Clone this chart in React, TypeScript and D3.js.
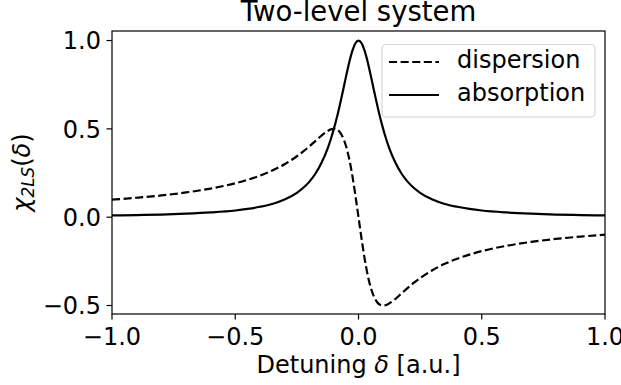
import React from "react";
import * as d3 from "d3";

// Detuning samples (a.u.) and the two response curves
const detuning = [
  -1, -0.9, -0.8, -0.7, -0.6, -0.5, -0.45, -0.4, -0.35, -0.3, -0.25, -0.225, -0.2,
  -0.175, -0.15, -0.125, -0.1125, -0.1, -0.0875, -0.075, -0.0625, -0.05, -0.0375,
  -0.025, -0.0125, 0, 0.0125, 0.025, 0.0375, 0.05, 0.0625, 0.075, 0.0875, 0.1,
  0.1125, 0.125, 0.15, 0.175, 0.2, 0.225, 0.25, 0.3, 0.35, 0.4, 0.45, 0.5, 0.6,
  0.7, 0.8, 0.9, 1,
];

const absorption = [
  0.01, 0.012, 0.015, 0.02, 0.027, 0.038, 0.047, 0.059, 0.075, 0.1, 0.138, 0.165, 0.2,
  0.246, 0.308, 0.39, 0.441, 0.5, 0.566, 0.64, 0.719, 0.8, 0.877,
  0.941, 0.985, 1.0, 0.985, 0.941, 0.877, 0.8, 0.719, 0.64, 0.566, 0.5,
  0.441, 0.39, 0.308, 0.246, 0.2, 0.165, 0.138, 0.1, 0.075, 0.059, 0.047, 0.038, 0.027,
  0.02, 0.015, 0.012, 0.01,
];

const dispersion = [
  0.099, 0.11, 0.123, 0.14, 0.162, 0.192, 0.212, 0.235, 0.264, 0.3, 0.345, 0.371, 0.4,
  0.431, 0.462, 0.488, 0.497, 0.5, 0.496, 0.48, 0.449, 0.4, 0.329,
  0.235, 0.123, 0.0, -0.123, -0.235, -0.329, -0.4, -0.449, -0.48, -0.496, -0.5,
  -0.497, -0.488, -0.462, -0.431, -0.4, -0.371, -0.345, -0.3, -0.264, -0.235, -0.212, -0.192, -0.162,
  -0.14, -0.123, -0.11, -0.099,
];

const xTicks = [-1, -0.5, 0, 0.5, 1];
const xTickLabels = ["\u22121.0", "\u22120.5", "0.0", "0.5", "1.0"];
const yTicks = [-0.5, 0, 0.5, 1];
const yTickLabels = ["\u22120.5", "0.0", "0.5", "1.0"];

const seriesNames = ["dispersion", "absorption"];

const W = 621;
const H = 385;
const plot = { left: 112, right: 605, top: 31, bottom: 314 };
const FONT = "DejaVu Sans, sans-serif";
const FS = 24;

export default function App() {
  const x = d3.scaleLinear().domain([-1, 1]).range([plot.left, plot.right]);
  const y = d3.scaleLinear().domain([-0.548, 1.054]).range([plot.bottom, plot.top]);

  const pts = (vals: number[]) => detuning.map((d, i) => [d, vals[i]] as [number, number]);
  const line = d3
    .line<[number, number]>()
    .x((d) => x(d[0]))
    .y((d) => y(d[1]))
    .curve(d3.curveMonotoneX);

  const dash = "8.1,3.5";
  const lw = 2.2;
  const legendRows = [
    { name: seriesNames[0], dash, y: 62 },
    { name: seriesNames[1], dash: undefined, y: 95 },
  ];

  return (
    <svg
      width={W}
      height={H}
      viewBox={`0 0 ${W} ${H}`}
      style={{ position: "absolute", left: 0, top: 0, background: "#fff" }}
      fontFamily={FONT}
    >
      <rect x={0} y={0} width={W} height={H} fill="#fff" />
      <defs>
        <clipPath id="plotClip">
          <rect x={plot.left} y={plot.top} width={plot.right - plot.left} height={plot.bottom - plot.top} />
        </clipPath>
      </defs>

      {/* curves */}
      <g clipPath="url(#plotClip)" fill="none" stroke="#000" strokeWidth={lw}>
        <path d={line(pts(dispersion)) || ""} strokeDasharray={dash} />
        <path d={line(pts(absorption)) || ""} />
      </g>

      {/* frame */}
      <rect
        x={plot.left}
        y={plot.top}
        width={plot.right - plot.left}
        height={plot.bottom - plot.top}
        fill="none"
        stroke="#000"
        strokeWidth={1.2}
      />

      {/* x axis ticks */}
      {xTicks.map((t, i) => (
        <g key={`xt${i}`}>
          <line x1={x(t)} x2={x(t)} y1={plot.bottom} y2={plot.bottom + 5.5} stroke="#000" strokeWidth={1.2} />
          <text x={x(t)} y={345} fontSize={FS} textAnchor="middle" fill="#000">
            {xTickLabels[i]}
          </text>
        </g>
      ))}

      {/* y axis ticks */}
      {yTicks.map((t, i) => (
        <g key={`yt${i}`}>
          <line x1={plot.left - 5.5} x2={plot.left} y1={y(t)} y2={y(t)} stroke="#000" strokeWidth={1.2} />
          <text x={plot.left - 11} y={y(t) + 8.7} fontSize={FS} textAnchor="end" fill="#000">
            {yTickLabels[i]}
          </text>
        </g>
      ))}

      {/* title */}
      <text x={(plot.left + plot.right) / 2} y={21} fontSize={27.5} textAnchor="middle" fill="#000">
        Two-level system
      </text>

      {/* x label */}
      <text x={(plot.left + plot.right) / 2} y={373} fontSize={FS} textAnchor="middle" fill="#000">
        Detuning <tspan fontStyle="italic">δ</tspan> [a.u.]
      </text>

      {/* y label */}
      <text
        transform={`translate(30, ${(plot.top + plot.bottom) / 2}) rotate(-90)`}
        fontSize={FS}
        textAnchor="middle"
        fill="#000"
      >
        <tspan fontStyle="italic">χ</tspan>
        <tspan fontStyle="italic" fontSize={FS * 0.7} dy={4}>
          2LS
        </tspan>
        <tspan dy={-4}>(</tspan>
        <tspan fontStyle="italic">δ</tspan>
        <tspan>)</tspan>
      </text>

      {/* legend */}
      <rect x={382} y={44.5} width={213} height={72.5} rx={4} ry={4} fill="#fff" fillOpacity={0.8} stroke="#d6d6d6" strokeWidth={1.2} />
      {legendRows.map((r) => (
        <g key={r.name}>
          <line x1={389} x2={439} y1={r.y} y2={r.y} stroke="#000" strokeWidth={lw} strokeDasharray={r.dash} />
          <text x={457} y={r.y + 6} fontSize={FS} fill="#000">
            {r.name}
          </text>
        </g>
      ))}
    </svg>
  );
}
